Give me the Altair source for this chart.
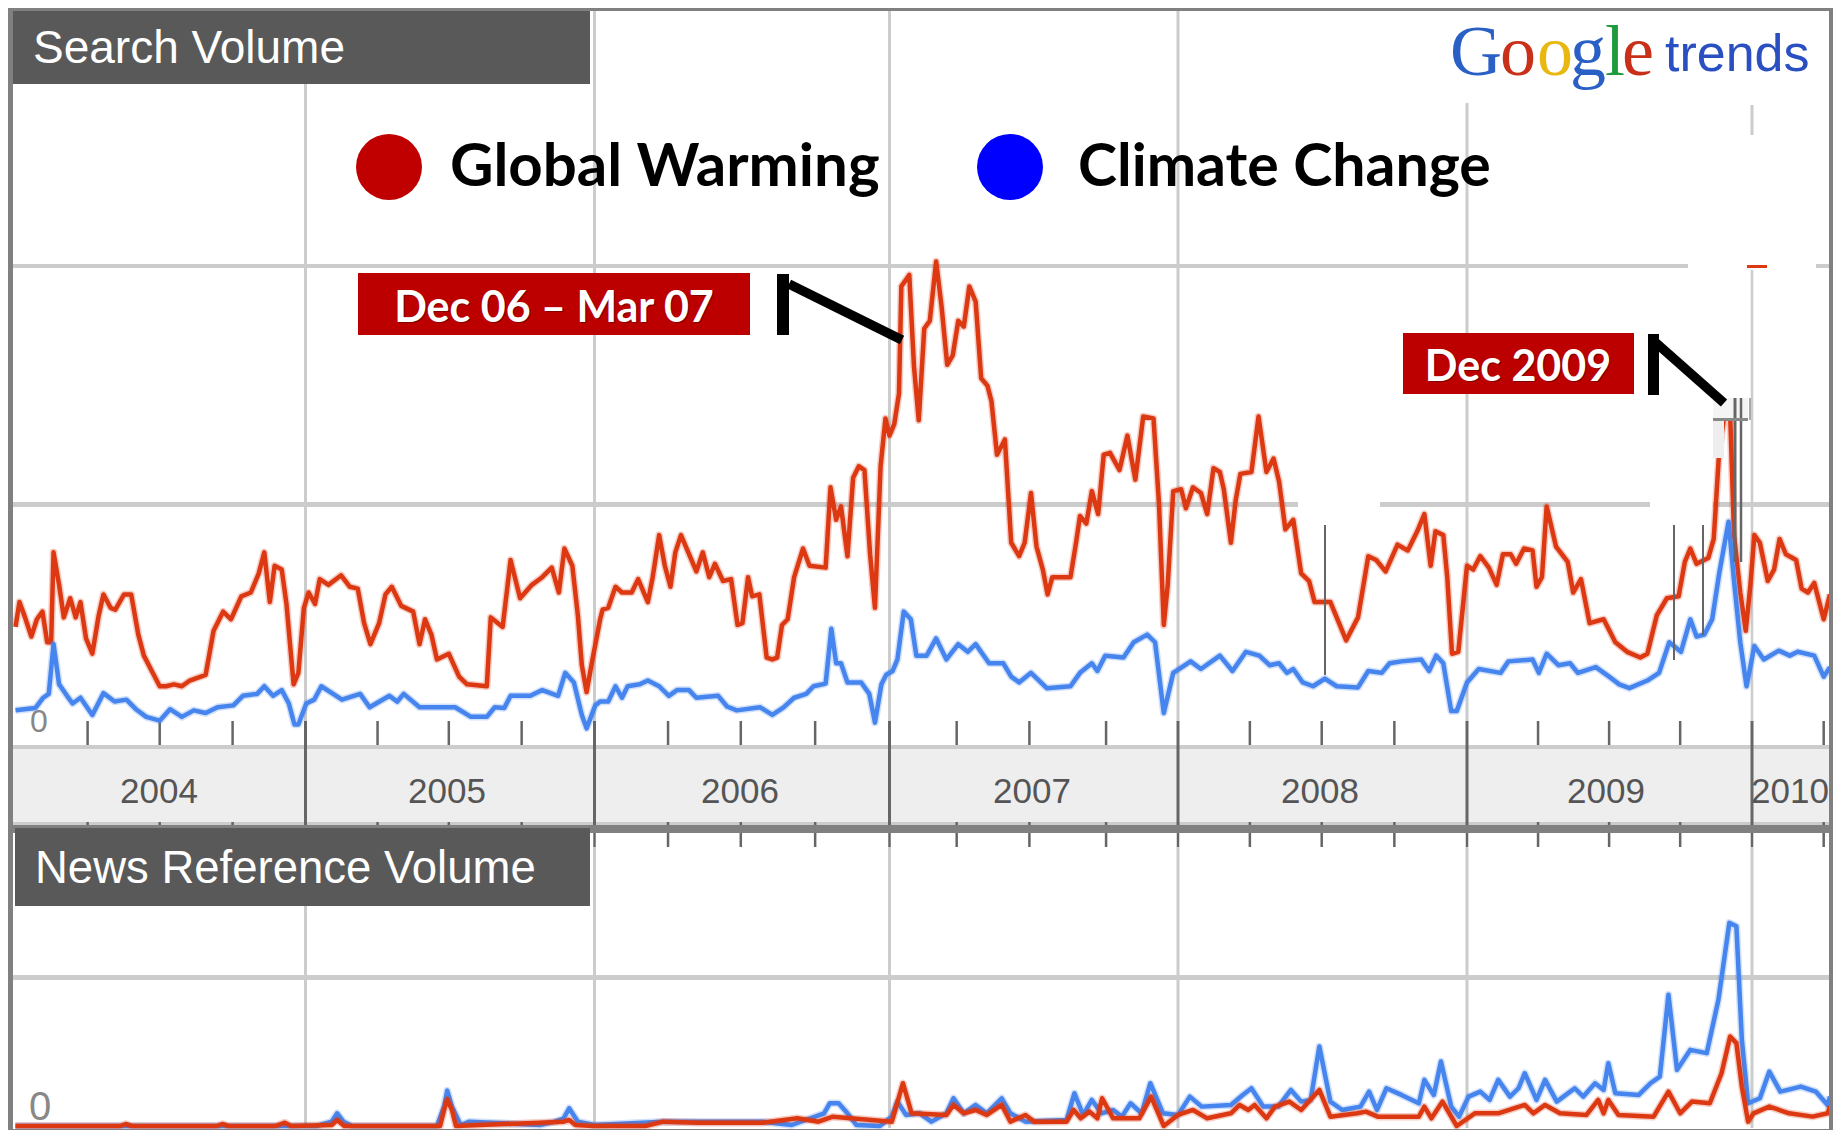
import altair as alt
import pandas as pd

# ---- series (day = days since 1 Jan 2004; value = index units, 622 = 1.0 gridline)
gw_days = [0,5,12,20,27,34,40,45,48,55,61,69,76,82,89,97,105,111,120,126,137,146,155,162,172,182,190,200,210,220,240,250,262,272,285,297,307,314,321,327,336,342,351,357,364,370,378,384,395,411,422,432,440,448,459,467,475,487,502,510,517,525,532,547,560,570,595,600,615,625,637,652,665,677,686,693,703,710,715,721,728]
gw_vals = [302,367,327,277,322,342,262,262,497,412,327,377,327,367,272,232,332,387,352,347,387,387,282,227,187,147,147,152,147,162,177,292,342,322,382,392,442,497,367,462,452,362,152,182,352,392,362,427,412,437,407,402,312,257,312,387,407,357,342,257,322,282,217,232,172,152,147,327,302,477,377,412,432,457,392,507,462,332,202,132,212]
gw_days2 = [738,741,748,757,765,777,785,797,803,811,818,825,831,838,846,857,865,873,880,890,900,908,914,921,926,935,944,951,957,963,970,978,989,997,1017,1023,1030,1036,1044,1051,1058,1065,1072,1078,1085,1091,1096,1102,1108,1111,1121,1127,1133,1140,1147,1155,1162,1169,1176,1183,1190,1197,1205,1212,1220,1225,1232,1242,1250,1260,1267,1275,1282,1290,1296,1302,1325,1332,1337,1345,1352,1360,1367,1375,1387,1397,1407,1417,1430,1437,1443,1448,1455,1465,1471,1480,1490,1498,1506,1514]
gw_vals2 = [322,347,352,407,392,392,427,367,432,542,462,407,497,542,502,447,497,432,467,422,427,307,312,432,382,387,222,217,222,307,322,432,507,462,457,667,582,617,487,692,722,712,492,352,722,847,802,832,912,1192,1222,982,842,1082,1102,1257,1137,987,1012,1102,1087,1192,1152,952,932,892,752,792,522,487,522,652,512,452,387,432,432,522,592,572,657,597,752,757,712,802,687,852,847,622,307,412,657,662,612,667,652,597,717,707]
gw_days3 = [1519,1528,1534,1540,1554,1563,1573,1582,1589,1597,1607,1617,1627,1634,1654,1674,1689,1702,1712,1724,1739,1752,1764,1773,1781,1787,1797,1802,1808,1816,1827,1835,1844,1855,1865,1873,1883,1890,1900,1911,1916,1923,1929,1941,1956,1963,1973,1984,2002,2017,2032,2049,2058,2070,2083,2098,2106,2113,2121,2136,2143,2150,2157,2164,2169,2177,2184,2190,2195,2202,2212,2220,2227,2235,2248,2255,2263,2271,2283,2291]
gw_vals3 = [662,522,632,702,707,852,707,742,682,557,582,442,422,367,367,267,327,487,477,447,517,502,552,597,462,552,542,432,232,237,462,452,487,457,412,492,492,467,507,502,407,432,617,512,472,392,427,312,322,262,237,222,232,332,377,382,472,507,467,482,532,762,860,860,542,392,292,412,542,522,422,452,532,492,477,402,392,417,322,387]

cc_days = [0,25,35,42,48,55,65,72,82,97,111,125,140,152,165,182,195,210,225,240,255,275,287,305,314,325,336,345,352,357,367,377,386,397,412,435,447,472,482,490,510,555,575,595,605,617,625,650,665,685,694,705,715,721,732]
cc_vals = [84,90,117,127,257,152,122,102,117,72,129,107,112,87,67,57,87,67,84,77,92,97,122,127,147,122,137,102,47,47,102,112,147,132,112,127,92,122,107,127,92,92,67,67,92,90,122,122,137,122,182,157,72,37,97]
cc_days2 = [738,748,757,765,772,787,797,811,823,833,848,857,884,895,907,936,951,965,978,993,1002,1017,1024,1030,1036,1044,1061,1071,1078,1086,1092,1100,1106,1114,1123,1130,1143,1155,1168,1183,1195,1205,1222,1240,1250,1260,1275,1295,1325,1337,1352,1359,1369,1392,1405,1422,1432,1443,1455,1477,1490,1514]
cc_vals2 = [107,107,147,117,147,152,162,147,122,137,137,117,122,94,84,92,72,92,117,127,147,154,297,207,207,157,157,127,52,152,177,187,217,342,322,227,227,272,217,257,237,257,207,207,172,157,182,142,147,182,207,187,227,222,262,282,262,77,182,212,192,227]
cc_days3 = [1530,1547,1564,1577,1589,1599,1607,1619,1632,1647,1662,1689,1702,1719,1729,1744,1769,1779,1788,1797,1807,1814,1827,1842,1870,1880,1911,1919,1929,1944,1959,1969,1992,2009,2022,2035,2058,2073,2086,2101,2113,2121,2131,2141,2150,2162,2169,2177,2185,2195,2207,2226,2240,2250,2271,2283,2291]
cc_vals3 = [187,237,227,202,207,182,192,157,147,167,147,144,187,182,207,212,217,187,227,207,82,82,157,192,182,212,217,182,232,202,207,182,197,172,152,142,162,182,262,237,322,277,282,322,442,577,422,262,147,252,217,240,227,237,227,172,197]

news_gw_days = [0,132,139,147,254,261,269,328,340,348,399,406,415,536,541,545,551,556,692,699,707,729,794,816,859,939,982,1008,1026,1048,1099,1113,1124]
news_gw_vals = [0,0,6,0,0,6,0,0,10,0,3,18,0,0,48,80,48,0,13,18,3,0,0,13,10,10,23,13,28,23,13,128,38]
news_gw_days2 = [1168,1177,1190,1205,1219,1238,1249,1268,1279,1320,1329,1338,1349,1359,1365,1379,1412,1427,1443,1461,1480,1498,1528,1539,1550,1558,1573,1584,1602,1617,1640,1654,1688,1699,1714,1766,1773,1782,1796,1814,1837,1867,1901,1912,1927,1946,1980,1995,2002,2008,2021,2066,2085,2100,2115,2138,2153,2164,2172,2179,2187,2194,2214,2239,2269,2288,2291]
news_gw_vals2 = [33,63,38,48,33,63,13,33,13,13,48,23,43,23,83,23,23,88,0,33,48,23,38,63,48,63,23,58,73,48,108,28,38,43,28,28,58,23,73,0,38,38,63,38,63,38,33,78,38,78,33,28,103,38,73,68,158,268,248,118,13,38,58,38,28,38,58]
news_cc_days = [0,380,399,406,414,425,532,541,545,551,562,573,662,681,692,699,710,731,816,939,975,1015,1022,1033,1044,1055,1084,1099,1106,1117,1134]
news_cc_vals = [0,0,13,38,13,0,0,58,106,58,3,13,3,13,23,53,13,3,13,13,3,38,68,68,38,3,0,28,73,33,38]
news_cc_days2 = [1149,1168,1177,1190,1205,1219,1238,1249,1268,1320,1330,1341,1352,1364,1379,1390,1401,1415,1426,1442,1461,1476,1491,1528,1543,1554,1569,1588,1604,1617,1629,1640,1654,1669,1692,1703,1713,1725,1744,1766,1773,1785,1794,1807,1817,1829,1844,1856,1867,1882,1893,1901,1916,1927,1942,1965,1976,1991,2002,2008,2017,2047,2062,2074,2085,2096,2113,2134,2149,2163,2172,2179,2187,2202,2214,2228,2254,2273,2288,2291]
news_cc_vals2 = [13,38,83,38,63,38,83,38,13,18,98,33,78,38,48,28,68,38,128,38,33,88,58,63,93,113,58,58,108,73,78,238,73,48,58,103,48,113,93,68,138,93,193,58,28,88,103,78,138,88,113,158,78,138,73,113,88,128,108,188,98,93,128,148,393,168,228,218,378,608,598,258,68,83,163,103,118,103,63,88]

year_days = [366,731,1096,1461,1827,2192]
year_labels = ["2004","2005","2006","2007","2008","2009","2010"]
tick_days = [91,182,274,457,547,639,822,912,1004,1181,1273,1370,1552,1643,1735,1918,2009,2100,2283]

for a, b in [(gw_days,gw_vals),(gw_days2,gw_vals2),(gw_days3,gw_vals3),(cc_days,cc_vals),(cc_days2,cc_vals2),(cc_days3,cc_vals3),
             (news_gw_days,news_gw_vals),(news_gw_days2,news_gw_vals2),(news_cc_days,news_cc_vals),(news_cc_days2,news_cc_vals2)]:
    assert len(a) == len(b), (len(a), len(b), a[0])

OX, OY = 8, 8
RIGHT = 1833   # last pixel column the page can show
one = pd.DataFrame({"a": [0]})
X_SCALE = alt.Scale(domain=[0,366,731,1096,1461,1827,2192,2291],
                    range=[7.5,297.5,586.5,881.5,1170,1459,1744,1822])
Y_TOP = alt.Scale(domain=[0,1244], range=[734.5,258.5])
Y_NEWS = alt.Scale(domain=[0,446], range=[1118,969])
X = alt.X("day:Q", scale=X_SCALE, axis=None)

def box(x0, y0, x1, y1, color):
    return alt.Chart(one).mark_rect(color=color).encode(
        x=alt.value(x0-OX), x2=alt.value(x1-OX), y=alt.value(y0-OY), y2=alt.value(y1-OY))

def seg(x0, y0, x1, y1, color, w):
    return alt.Chart(one).mark_rule(color=color, strokeWidth=w).encode(
        x=alt.value(x0-OX), x2=alt.value(x1-OX), y=alt.value(y0-OY), y2=alt.value(y1-OY))

def label(s, x, y, size, color, font="Liberation Sans", weight="normal", align="left", opacity=1):
    return alt.Chart(one).mark_text(text=s, font=font, fontSize=size, fontWeight=weight, color=color,
                                    align=align, baseline="alphabetic", opacity=opacity).encode(
        x=alt.value(x-OX), y=alt.value(y-OY))

def vrules(days, y0, y1, color, w):
    return alt.Chart(pd.DataFrame({"day": days})).mark_rule(color=color, strokeWidth=w).encode(
        x=X, y=alt.value(y0-OY), y2=alt.value(y1-OY))

def series(days, vals, scale, color):
    df = pd.DataFrame({"day": days, "v": vals})
    y = alt.Y("v:Q", scale=scale, axis=None)
    halo = alt.Chart(df).mark_line(color=color, strokeWidth=7.5, opacity=0.25, strokeJoin="round").encode(x=X, y=y)
    main = alt.Chart(df).mark_line(color=color, strokeWidth=4.5, strokeJoin="round").encode(x=X, y=y)
    return [halo, main]

GRID, DARK, RED, BLUE = "#cccccc", "#666666", "#DC3912", "#4684EE"
L = []
# background and grid
L += [box(8, 8, RIGHT, 1130, "#ffffff")]
L += [box(13, 264, RIGHT, 268, GRID), box(13, 502, RIGHT, 507, GRID), box(13, 975, RIGHT, 980, GRID)]
L += [vrules(year_days[:4], 10, 722, GRID, 3), vrules([1827], 103, 722, GRID, 3),
      vrules([2192], 105, 135, GRID, 3), vrules([2192], 270, 722, GRID, 2.5),
      vrules(year_days, 847, 1128, GRID, 3)]
# erased patches of the gridlines
L += [box(1298, 501, 1380, 508, "#ffffff"), box(1650, 501, 1713, 508, "#ffffff"),
      box(1688, 263, 1816, 269, "#ffffff"), box(1747, 265, 1767, 268, RED)]
# axis band
L += [box(13, 745, RIGHT, 822, "#eeeeee"), box(13, 745, RIGHT, 749, GRID), box(13, 822, RIGHT, 825, GRID)]
L += [vrules(year_days, 721, 825, DARK, 3), vrules(tick_days, 721, 745, DARK, 2.5),
      vrules(tick_days, 822, 825, DARK, 2.5), vrules(year_days + tick_days, 833, 847, DARK, 2.5)]
L += [label(y, x, 803, 35, "#555555", align="center")
      for y, x in zip(year_labels, [159, 447, 740, 1032, 1320, 1606, 1790])]
L += [label("0", 39, 732, 32, "#888888", align="center"),
      label("0", 40, 1120, 40, "#888888", align="center")]
# series
L += series(gw_days+gw_days2+gw_days3, gw_vals+gw_vals2+gw_vals3, Y_TOP, RED)
L += series(cc_days+cc_days2+cc_days3, cc_vals+cc_vals2+cc_vals3, Y_TOP, BLUE)
L += series(news_cc_days+news_cc_days2, news_cc_vals+news_cc_vals2, Y_NEWS, BLUE)
L += series(news_gw_days+news_gw_days2, news_gw_vals+news_gw_vals2, Y_NEWS, RED)
# artefacts around the Dec 2009 peak
L += [seg(1325, 525, 1325, 675, DARK, 2), seg(1674, 525, 1674, 660, DARK, 2), seg(1703, 525, 1703, 635, DARK, 2),
      box(1713, 398, 1748, 420, "#f4f4f4"), box(1713, 420, 1724, 458, "#eeeeee"),
      seg(1735, 398, 1735, 562, DARK, 3), seg(1741, 398, 1741, 562, DARK, 2.5),
      box(1713, 418, 1748, 421, "#888888"), seg(1750, 398, 1750, 420, "#aaaaaa", 2)]
# frame
L += [box(8, 8, RIGHT, 11, "#808080"), box(8, 8, 13, 1130, "#808080"), box(1829, 8, RIGHT, 1130, "#808080"),
      box(8, 825, RIGHT, 833, "#808080"), box(8, 1129, RIGHT, 1130, "#808080")]
# header boxes
L += [box(13, 11, 590, 84, "#595959"), box(15, 828, 590, 906, "#595959"),
      label("Search Volume", 33, 63, 46, "#ffffff"), label("News Reference Volume", 35, 883, 45.5, "#ffffff")]
# legend
legend = pd.DataFrame({"k": [0]})
L += [alt.Chart(legend).mark_circle(size=4356, color="#C00000", opacity=1).encode(x=alt.value(389-OX), y=alt.value(167-OY)),
      alt.Chart(legend).mark_circle(size=4356, color="#0000FF", opacity=1).encode(x=alt.value(1010-OX), y=alt.value(167-OY)),
      label("Global Warming", 450, 186, 60, "#000000", font="Lato", weight="bold"),
      label("Climate Change", 1078, 186, 59, "#000000", font="Lato", weight="bold")]
# callouts
L += [box(358, 273, 750, 335, "#BC0000"), box(1403, 333, 1634, 394, "#BC0000"),
      label("Dec 06 – Mar 07", 555, 323, 43, "#5a0000", font="Lato", weight="bold", align="center", opacity=0.6),
      label("Dec 06 – Mar 07", 554, 322, 43, "#ffffff", font="Lato", weight="bold", align="center"),
      label("Dec 2009", 1519, 382, 43, "#5a0000", font="Lato", weight="bold", align="center", opacity=0.6),
      label("Dec 2009", 1518, 381, 43, "#ffffff", font="Lato", weight="bold", align="center"),
      box(777, 274, 789, 335, "#000000"), seg(789, 284, 902, 340, "#000000", 9.5),
      box(1648, 334, 1659, 395, "#000000"), seg(1655, 342, 1724, 403, "#000000", 9.5)]
# logo
for ch, x, col in zip("Google", [1450, 1500, 1537, 1570, 1605, 1622],
                      ["#2A5FC6", "#C83019", "#E8B810", "#2A5FC6", "#1F9A3C", "#C83019"]):
    L.append(label(ch, x, 75, 72, col, font="Liberation Serif"))
L.append(label("trends", 1665, 71, 52, "#2A4FC0"))

chart = alt.layer(*L).resolve_scale(y="independent").properties(
    width=1825, height=1122, padding=0,
    autosize=alt.AutoSizeParams(type="none"),
    background="#ffffff",
).configure_view(stroke=None)

chart.save("out.html", embed_options={"renderer": "svg", "actions": False})
